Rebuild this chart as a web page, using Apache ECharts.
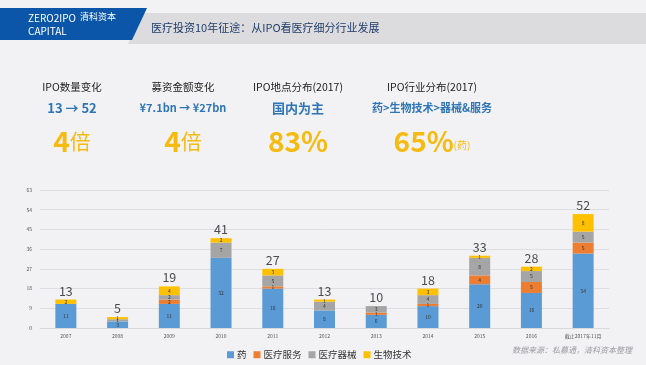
<!DOCTYPE html>
<html><head><meta charset="utf-8">
<script src="https://cdn.jsdelivr.net/npm/echarts@6/dist/echarts.min.js"></script>
<style>html,body{margin:0;padding:0;background:#f2f2f4;}#c{width:646px;height:365px;}</style>
</head><body><div id="c"></div>
<script>
const categories = ['2007','2008','2009','2010','2011','2012','2013','2014','2015','2016','截止2017年11月'];
const drug     = [11, 3, 11, 32, 18, 8, 6, 10, 20, 16, 34];
const service  = [0, 0, 2, 0, 1, 0, 1, 1, 4, 5, 5];
const device   = [0, 1, 2, 7, 5, 4, 3, 4, 8, 5, 5];
const biotech  = [2, 1, 4, 2, 3, 1, 0, 3, 1, 2, 8];
const totals   = [13, 5, 19, 41, 27, 13, 10, 18, 33, 28, 52];
const seriesNames = ['药','医疗服务','医疗器械','生物技术'];
const colors = ['#5b9bd5','#ed7d31','#a5a5a5','#ffc000'];
const yTicks = {min:0, max:63, interval:9};

const FONT = '"Noto Sans CJK SC", "Noto Sans", sans-serif';
const chart = echarts.init(document.getElementById('c'));
const segLabel = {show:true, fontSize:5, color:'#333', fontFamily:FONT,
  formatter: p => p.value ? p.value : ''};
const mk = (name, data, i) => ({
  name, type:'bar', stack:'t', data, barWidth:21,
  itemStyle:{color:colors[i]}, label:segLabel
});
const kpiCols = [
  {x:72, t1:'IPO数量变化', t2:'13 → 52', big:'4', small:'倍'},
  {x:183, t1:'募资金额变化', t2:'¥7.1bn → ¥27bn', big:'4', small:'倍'},
  {x:298, t1:'IPO地点分布(2017)', t2:'国内为主', big:'83%', small:''},
  {x:432, t1:'IPO行业分布(2017)', t2:'药>生物技术>器械&服务', big:'65%', small:'(药)'}
];
const graphics = [
  {type:'polygon', shape:{points:[[140,13],[646,13],[646,44],[128,44]]}, style:{fill:'#dcdcde'}},
  {type:'polygon', shape:{points:[[0,8],[147,8],[132,40],[0,40]]}, style:{fill:'#0b56a8'}},
  {type:'text', left:28, top:12, style:{text:'ZERO2IPO\nCAPITAL', fill:'#fff', font:'10px '+FONT, lineHeight:13}},
  {type:'text', left:80, top:12, style:{text:'清科资本', fill:'#fff', font:'9px '+FONT}},
  {type:'text', left:151, top:22, style:{text:'医疗投资10年征途：从IPO看医疗细分行业发展', fill:'#1f3d6b', font:'11px '+FONT}},
  {type:'text', left:512, top:346, style:{text:'数据来源：私募通，清科资本整理', fill:'#9a9aa0', font:'italic 8px '+FONT}}
];
kpiCols.forEach(k => {
  graphics.push({type:'text', x:k.x, y:87, style:{text:k.t1, fill:'#222', font:'10.5px '+FONT, align:'center', verticalAlign:'middle'}});
  graphics.push({type:'text', x:k.x, y:108, style:{text:k.t2, fill:'#2e75b6', font:'bold '+(k.t2.length>10?'11px ':'13px ')+FONT, align:'center', verticalAlign:'middle'}});
  graphics.push({type:'text', x:k.x, y:141, style:{
    text:'{b|'+k.big+'}'+(k.small?'{s|'+k.small+'}':''), align:'center', verticalAlign:'middle',
    rich:{b:{fill:'#f6bb10', font:'bold 28px '+FONT}, s:{fill:'#f6bb10', font:(k.small==='倍'?'21px ':'10px ')+FONT, padding:k.small==='倍'?[0,0,0,0]:[8,0,0,0]}}
  }});
});
chart.setOption({
  backgroundColor:'#f2f2f4',
  animation:false,
  textStyle:{fontFamily:FONT},
  grid:{left:40, right:37, top:190, bottom:37},
  legend:{data:seriesNames, left:222, top:345, itemWidth:7, itemHeight:7, itemGap:7,
    textStyle:{fontSize:9.5, color:'#333', fontFamily:FONT, padding:[0,0,0,-2]}, icon:'rect'},
  xAxis:{type:'category', data:categories, axisTick:{show:false},
    axisLine:{lineStyle:{color:'#d9d9d9'}},
    axisLabel:{fontSize:5, color:'#555', margin:6}},
  yAxis:{type:'value', min:yTicks.min, max:yTicks.max, interval:yTicks.interval,
    axisLabel:{fontSize:5, color:'#555', margin:8},
    splitLine:{lineStyle:{color:'#dedee2'}}, axisLine:{show:false}, axisTick:{show:false}},
  graphic:graphics,
  series:[
    mk('药', drug, 0), mk('医疗服务', service, 1), mk('医疗器械', device, 2), mk('生物技术', biotech, 3),
    {name:'合计', type:'scatter', data:totals, symbolSize:1, itemStyle:{color:'rgba(0,0,0,0)'},
     label:{show:true, position:'top', distance:2, fontSize:12.5, color:'#222', fontFamily:FONT, formatter:p=>p.value}}
  ]
});
</script></body></html>
